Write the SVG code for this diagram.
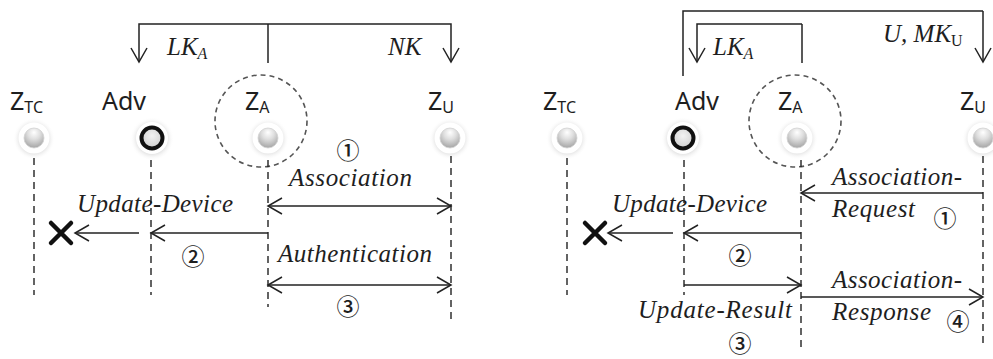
<svg xmlns="http://www.w3.org/2000/svg" width="993" height="359" viewBox="0 0 993 359">
  <style>
    .lbl { font-family: "Noto Sans", "Open Sans", sans-serif; font-size: 25px; fill: #1e1e1e; }
    .sub { font-size: 16px; }
    .msg { font-family: "Liberation Serif", "Times New Roman", serif; font-style: italic; font-size: 25px; fill: #1e1e1e; }
    .key { font-family: "Liberation Serif", "Times New Roman", serif; font-style: italic; font-size: 25px; fill: #1e1e1e; }
    .ksub { font-size: 16px; }
    .num { font-family: "Noto Sans CJK KR", "Noto Sans CJK SC", sans-serif; font-size: 23px; font-weight: 500; fill: #1e1e1e; text-anchor: middle; }
    .line { fill: none; stroke: #222; stroke-width: 1.5; }
    .arrow { fill: none; stroke: #222; stroke-width: 1.5; marker-end: url(#head); }
    .both { fill: none; stroke: #222; stroke-width: 1.5; marker-start: url(#head); marker-end: url(#head); }
    .life { fill: none; stroke: #222; stroke-width: 1.4; stroke-dasharray: 7 5; }
    .scope { fill: none; stroke: #555; stroke-width: 1.6; stroke-dasharray: 5 4; }
    .kill { fill: none; stroke: #111; stroke-width: 4.5; stroke-linecap: round; }
  </style>
  <defs>
    <marker id="head" viewBox="0 0 16 18" markerWidth="16" markerHeight="18" refX="15" refY="9" orient="auto-start-reverse" markerUnits="userSpaceOnUse" overflow="visible">
      <path d="M1,1 L15,9 L1,17" fill="none" stroke="#222" stroke-width="1.5"/>
    </marker>
    <radialGradient id="glow" cx="50%" cy="52%" r="50%">
      <stop offset="0.6" stop-color="#b8b8b8" stop-opacity="0.6"/>
      <stop offset="1" stop-color="#ffffff" stop-opacity="0"/>
    </radialGradient>
    <radialGradient id="ball" cx="50%" cy="30%" r="70%" fx="50%" fy="22%">
      <stop offset="0" stop-color="#ffffff"/>
      <stop offset="0.45" stop-color="#dedede"/>
      <stop offset="1" stop-color="#a5a5a5"/>
    </radialGradient>
    <radialGradient id="flat" cx="50%" cy="40%" r="60%">
      <stop offset="0" stop-color="#f2f2f2"/>
      <stop offset="1" stop-color="#cfcfcf"/>
    </radialGradient>
    <g id="glass">
      <circle r="21" fill="url(#glow)"/>
      <circle r="15.5" fill="#ffffff"/>
      <circle r="10" fill="url(#ball)" stroke="#d2d2d2" stroke-width="0.8"/>
    </g>
    <g id="rogue">
      <circle r="22" fill="url(#glow)"/>
      <circle r="16" fill="#ffffff"/>
      <circle r="10.5" fill="url(#flat)" stroke="#111" stroke-width="4"/>
    </g>
  </defs>

  <rect width="993" height="359" fill="#ffffff"/>

  <!-- ===== Left scenario: association / authentication ===== -->
  <g id="l-ztc">
    <text class="lbl" x="10" y="110">Z<tspan class="sub" dy="3">TC</tspan></text>
    <use href="#glass" x="34" y="138"/>
  </g>
  <g id="l-adv">
    <text class="lbl" x="102" y="110">Adv</text>
    <use href="#rogue" x="152" y="138"/>
  </g>
  <g id="l-za">
    <circle class="scope" cx="261" cy="121" r="46"/>
    <text class="lbl" x="245" y="110">Z<tspan class="sub" dy="3">A</tspan></text>
    <use href="#glass" x="268" y="138"/>
  </g>
  <g id="l-zu">
    <text class="lbl" x="428" y="110">Z<tspan class="sub" dy="3">U</tspan></text>
    <use href="#glass" x="450" y="138"/>
  </g>

  <!-- ===== Right scenario: rejoin with request / response ===== -->
  <g id="r-ztc">
    <text class="lbl" x="543" y="110">Z<tspan class="sub" dy="3">TC</tspan></text>
    <use href="#glass" x="567" y="138"/>
  </g>
  <g id="r-adv">
    <text class="lbl" x="675" y="110">Adv</text>
    <use href="#rogue" x="683" y="138"/>
  </g>
  <g id="r-za">
    <circle class="scope" cx="795" cy="121" r="46"/>
    <text class="lbl" x="778" y="110">Z<tspan class="sub" dy="3">A</tspan></text>
    <use href="#glass" x="797" y="138"/>
  </g>
  <g id="r-zu">
    <text class="lbl" x="960" y="110">Z<tspan class="sub" dy="3">U</tspan></text>
    <use href="#glass" x="983" y="138"/>
  </g>

  <g id="connectors">
    <!-- lifelines -->
    <path class="life" d="M34,158 V295 M151,160 V295 M268,160 V307 M451,156 V323"/>
    <path class="life" d="M567,158 V295 M684,160 V295 M801,160 V352 M983,156 V348"/>

    <!-- key distribution, left -->
    <path class="line" d="M268,63 V24"/>
    <path class="arrow" d="M268,24 H139 V62"/>
    <path class="arrow" d="M268,24 H451 V62"/>

    <!-- key distribution, right -->
    <path class="line" d="M683,76 V11 H983"/>
    <path class="arrow" d="M983,11 V62"/>
    <path class="line" d="M802,63 V24"/>
    <path class="arrow" d="M802,24 H697 V62"/>

    <!-- left messages -->
    <path class="both" d="M268,206 H451"/>
    <path class="arrow" d="M268,233 H151"/>
    <path class="arrow" d="M139,233 H75"/>
    <path class="both" d="M268,285 H451"/>

    <!-- right messages -->
    <path class="arrow" d="M983,193 H801"/>
    <path class="arrow" d="M801,233 H684"/>
    <path class="arrow" d="M673,233 H608"/>
    <path class="arrow" d="M684,285 H801"/>
    <path class="arrow" d="M801,297 H983"/>

    <!-- device removed -->
    <path class="kill" d="M51,223 L71,243 M71,223 L51,243"/>
    <path class="kill" d="M585,223 L605,243 M605,223 L585,243"/>
  </g>

  <!-- key labels -->
  <text class="key" x="167" y="55">LK<tspan class="ksub" dy="4">A</tspan></text>
  <text class="key" x="388" y="55">NK</text>
  <text class="key" x="713" y="55">LK<tspan class="ksub" dy="4">A</tspan></text>
  <text class="key" x="883" y="42">U, MK<tspan class="ksub" dy="4" font-style="normal">U</tspan></text>

  <!-- left message labels -->
  <text class="msg" x="289" y="186" textLength="123">Association</text>
  <text class="msg" x="77" y="212" textLength="156">Update-Device</text>
  <text class="msg" x="278" y="262" textLength="154">Authentication</text>
  <text class="num" x="348" y="159">①</text>
  <text class="num" x="193" y="265">②</text>
  <text class="num" x="348" y="315">③</text>

  <!-- right message labels -->
  <text class="msg" x="832" y="185" textLength="130">Association-</text>
  <text class="msg" x="832" y="217" textLength="83">Request</text>
  <text class="msg" x="612" y="212" textLength="155">Update-Device</text>
  <text class="msg" x="832" y="288" textLength="130">Association-</text>
  <text class="msg" x="832" y="320" textLength="99">Response</text>
  <text class="msg" x="638" y="318" textLength="154">Update-Result</text>
  <text class="num" x="945" y="227">①</text>
  <text class="num" x="740" y="264">②</text>
  <text class="num" x="740" y="352">③</text>
  <text class="num" x="958" y="330">④</text>
</svg>
